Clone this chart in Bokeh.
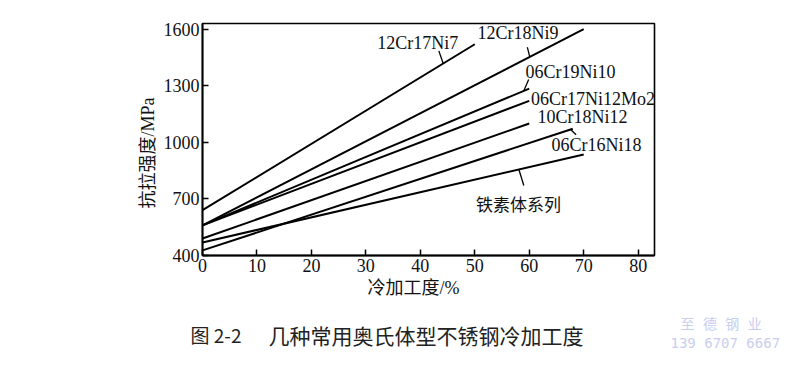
import numpy as np
from bokeh.plotting import figure
from bokeh.models import Range1d, FixedTicker, Label, ColumnDataSource, Title
from bokeh.layouts import column, row
from bokeh.embed import file_html
from bokeh.resources import INLINE

# ---- data ----
grades = ["12Cr17Ni7", "12Cr18Ni9", "06Cr19Ni10", "06Cr17Ni12Mo2",
          "10Cr18Ni12", "06Cr16Ni18", "铁素体系列"]
start_cold_work = [0, 0, 0, 0, 0, 0, 0]            # %
end_cold_work = [50, 70, 60, 60, 60, 68, 70]        # %
start_strength = [640, 560, 560, 560, 490, 427, 469]      # MPa
end_strength = [1520, 1600, 1285, 1220, 1100, 1072, 935]  # MPa

x_ticks = [0, 10, 20, 30, 40, 50, 60, 70, 80]
y_ticks = [400, 700, 1000, 1300, 1600]

# ---- annotation placement (label anchors, leader lines) ----
label_x = [32.1, 50.5, 59.3, 60.3, 61.5, 64.1, 50.2]
label_y = [1529, 1582, 1375, 1232, 1134, 988, 677]
leader_idx = [0, 1, 2, 5, 6]
leader_on_x = [44.2, 60.1, 59.0, 67.6, 58.1]
leader_tip_x = [43.4, 59.65, 59.9, 68.6, 59.0]
leader_tip_y = [1485, 1504, 1333, 1040, 771]

SERIF = "'Liberation Serif', 'Noto Sans CJK SC'"
CJK = "'Noto Sans CJK SC'"
INK = "#111111"

p = figure(width=800, height=308, output_backend="svg", toolbar_location=None,
           x_range=Range1d(0, 83), y_range=Range1d(400, 1630),
           min_border_left=202, min_border_right=146,
           min_border_top=23, min_border_bottom=53)
p.background_fill_color = "white"
p.border_fill_color = "white"
p.outline_line_color = "black"
p.outline_line_width = 1.6
p.grid.visible = False

src = ColumnDataSource(dict(x0=start_cold_work, y0=start_strength,
                            x1=end_cold_work, y1=end_strength))
p.segment(x0="x0", y0="y0", x1="x1", y1="y1", source=src,
          line_color="black", line_width=2)

# leader lines from the curves to their labels
lx0, ly0 = [], []
for i, xo in zip(leader_idx, leader_on_x):
    frac = (xo - start_cold_work[i]) / (end_cold_work[i] - start_cold_work[i])
    lx0.append(xo)
    ly0.append(start_strength[i] + frac * (end_strength[i] - start_strength[i]))
p.segment(x0=lx0, y0=ly0, x1=leader_tip_x, y1=leader_tip_y,
          line_color="black", line_width=1.3)

for g, lx, ly in zip(grades, label_x, label_y):
    cjk = not g[0].isascii()
    p.add_layout(Label(x=lx, y=ly, text=g, text_align="left",
                       text_baseline="middle",
                       text_font=CJK if cjk else SERIF,
                       text_font_size="17px" if cjk else "18px",
                       text_color=INK))

for ax in (p.xaxis, p.yaxis):
    ax.axis_line_color = "black"
    ax.axis_line_width = 1.8
    ax.major_tick_in = 6
    ax.major_tick_out = 0
    ax.minor_tick_line_color = None
    ax.major_tick_line_width = 1.5
    ax.major_label_text_font = SERIF
    ax.major_label_text_font_size = "18px"
    ax.major_label_text_color = INK

p.xaxis.ticker = FixedTicker(ticks=x_ticks)
p.yaxis.ticker = FixedTicker(ticks=y_ticks)
p.xaxis.major_label_standoff = 3
p.yaxis.major_label_standoff = 3

# axis titles as Titles so they can be offset like the reference
p.add_layout(Title(text="抗拉强度/MPa", align="left", offset=47, standoff=6,
                   text_font=SERIF, text_font_size="18px",
                   text_font_style="normal", text_color=INK), "left")
p.add_layout(Title(text="冷加工度/%", align="left", offset=165, standoff=2,
                   text_font=SERIF, text_font_size="18px",
                   text_font_style="normal", text_color=INK), "below")

# caption strip below the chart (y range runs in page pixels, top-down)
c = figure(width=800, height=62, output_backend="svg", toolbar_location=None,
           x_range=Range1d(0, 800), y_range=Range1d(370, 308),
           x_axis_type=None, y_axis_type=None,
           min_border_left=0, min_border_right=0,
           min_border_top=0, min_border_bottom=0)
c.outline_line_color = None
c.grid.visible = False
c.background_fill_color = "white"
c.border_fill_color = "white"

c.add_layout(Label(x=190, y=334, text="图 2-2", text_font=CJK,
                   text_font_size="19px", text_baseline="middle",
                   text_align="left", text_color="#222222"))
c.add_layout(Label(x=268, y=334, text="几种常用奥氏体型不锈钢冷加工度",
                   text_font=CJK, text_font_size="21px",
                   text_baseline="middle", text_align="left",
                   text_color="#222222"))
c.add_layout(Label(x=680, y=323, text="至 德 钢 业",
                   text_font="'DejaVu Sans Mono', 'Noto Sans CJK SC'",
                   text_font_size="14px", text_baseline="middle",
                   text_align="left", text_color="#c9cdf0"))
c.add_layout(Label(x=670, y=342, text="139 6707 6667",
                   text_font="'DejaVu Sans Mono'",
                   text_font_size="14px", text_baseline="middle",
                   text_align="left", text_color="#c9cdf0"))

layout = column(p, row(c), spacing=0)
open("out.html", "w").write(file_html(layout, INLINE))
